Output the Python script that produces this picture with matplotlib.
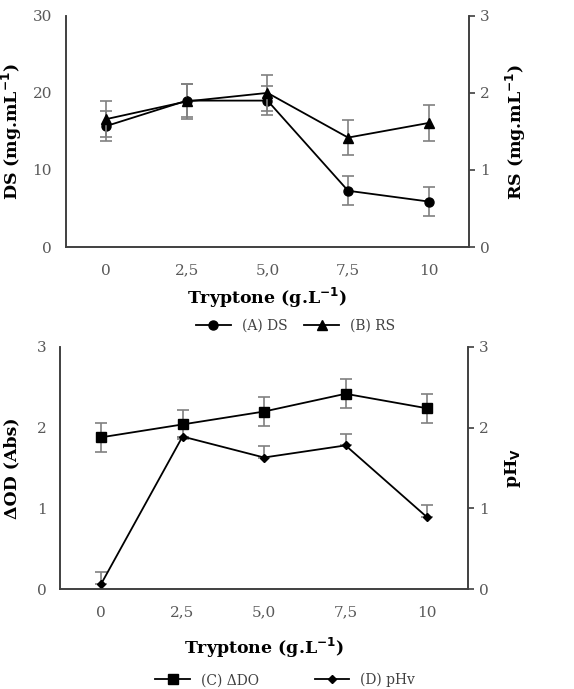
import numpy as np
import matplotlib.pyplot as plt

plt.rcParams['font.family'] = 'DejaVu Serif'

# Concentrações de triptona (g/L)
tryptone = ['0', '2,5', '5,0', '7,5', '10']

# (A) DS e (B) RS
ds = [15.7, 19.0, 19.0, 7.3, 5.9]
ds_err = [1.9, 2.1, 1.9, 1.9, 1.9]
rs = [1.66, 1.89, 2.00, 1.42, 1.61]
rs_err = [0.23, 0.23, 0.23, 0.23, 0.23]

# (C) ΔDO e (D) pHv
dod = [1.88, 2.04, 2.20, 2.42, 2.24]
dod_err = [0.18, 0.18, 0.18, 0.18, 0.18]
phv = [0.06, 1.89, 1.63, 1.78, 0.89]
phv_err = [0.15, 0.0, 0.14, 0.14, 0.15]

x = np.arange(len(tryptone))
tick_color = '#595959'
err_color = '#808080'
label_font = dict(fontsize=12.5, fontweight='bold')


def style_axes(ax, ax2, ylim, yticks, ylim2, yticks2):
    ax.set_xlim(-0.5, 4.5)
    ax.set_ylim(*ylim)
    ax2.set_ylim(*ylim2)
    ax.set_yticks(yticks)
    ax2.set_yticks(yticks2)
    ax.set_xticks(x)
    ax.set_xticklabels(tryptone)
    for a in (ax, ax2):
        a.spines['top'].set_visible(False)
        for s in a.spines.values():
            s.set_color('#404040')
            s.set_linewidth(1.2)
    ax.tick_params(axis='x', length=0, pad=12, labelsize=11, labelcolor=tick_color)
    ax.tick_params(axis='y', length=0, pad=10, labelsize=11, labelcolor=tick_color)
    ax2.tick_params(axis='y', direction='out', length=4, width=1.2, color='#404040',
                    pad=4, labelsize=11, labelcolor=tick_color)


def series(ax, y, err, marker, ms, label):
    ax.errorbar(x, y, yerr=err, color='black', marker=marker, markersize=ms, lw=1.3,
                ecolor=err_color, elinewidth=1.2, capsize=4, capthick=1.2, label=label)


fig = plt.figure(figsize=(5.74, 6.89), dpi=100)

# Gráfico superior: DS / RS
ax1 = fig.add_axes([0.115, 0.6415, 0.702, 0.3355])
ax1b = ax1.twinx()
series(ax1, ds, ds_err, 'o', 6.5, '(A) DS')
series(ax1b, rs, rs_err, '^', 6.5, '(B) RS')
style_axes(ax1, ax1b, (0, 30), [0, 10, 20, 30], (0, 3), [0, 1, 2, 3])
ax1.set_ylabel('DS (mg.mL$^{\\mathbf{-1}}$)', labelpad=6, **label_font)
ax1b.set_ylabel('RS (mg.mL$^{\\mathbf{-1}}$)', labelpad=10, **label_font)
ax1.set_xlabel('Tryptone (g.L$^{\\mathbf{-1}}$)', labelpad=6, **label_font)
h1, l1 = ax1.get_legend_handles_labels()
h2, l2 = ax1b.get_legend_handles_labels()
leg = fig.legend([h[0] for h in h1 + h2], l1 + l2, loc='center',
                 bbox_to_anchor=(0.515, 0.527), ncol=2, frameon=False,
                 fontsize=10, handlelength=2.5, columnspacing=1.2)
for t in leg.get_texts():
    t.set_color('#404040')

# Gráfico inferior: ΔDO / pHv
ax2 = fig.add_axes([0.105, 0.1451, 0.71, 0.3513])
ax2b = ax2.twinx()
series(ax2, dod, dod_err, 's', 6.5, '(C) ΔDO')
ax2b.errorbar(x, phv, yerr=[np.zeros(len(phv)), phv_err], color='black', marker='D',
              markersize=4.5, lw=1.3, ecolor=err_color, elinewidth=1.2, capsize=4,
              capthick=1.2, label='(D) pHv')
style_axes(ax2, ax2b, (0, 3), [0, 1, 2, 3], (0, 3), [0, 1, 2, 3])
ax2.set_ylabel('ΔOD (Abs)', labelpad=12, **label_font)
ax2b.set_ylabel('pH$_\\mathbf{V}$', labelpad=10, **label_font)
ax2.set_xlabel('Tryptone (g.L$^{\\mathbf{-1}}$)', labelpad=12, **label_font)
h1, l1 = ax2.get_legend_handles_labels()
h2, l2 = ax2b.get_legend_handles_labels()
leg = fig.legend([h[0] for h in h1 + h2], l1 + l2, loc='center',
                 bbox_to_anchor=(0.497, 0.013), ncol=2, frameon=False,
                 fontsize=10, handlelength=2.5, columnspacing=4.0)
for t in leg.get_texts():
    t.set_color('#404040')

fig.savefig('out.png', dpi=100)
